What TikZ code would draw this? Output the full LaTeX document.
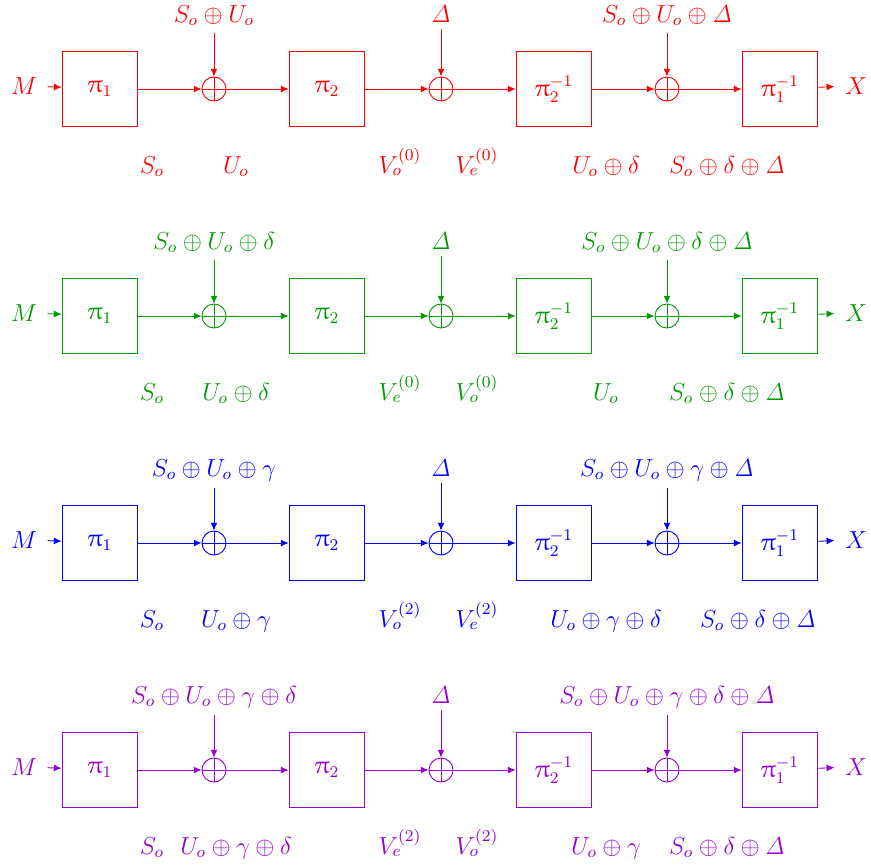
\documentclass[tikz,border=0pt]{standalone}
\usepackage{amsmath}
\usepackage{upgreek}
\usetikzlibrary{arrows.meta}
\definecolor{cgreen}{RGB}{0,153,0}
\definecolor{cviolet}{RGB}{150,0,210}
\tikzset{
  blk/.style={draw, line width=0.45pt, minimum width=37pt, minimum height=37pt, inner sep=0pt},
  xr/.style={circle, draw, line width=0.45pt, minimum size=11.7pt, inner sep=0pt,
    path picture={\draw[line width=0.45pt] (path picture bounding box.north) -- (path picture bounding box.south)
      (path picture bounding box.west) -- (path picture bounding box.east);}},
  lbl/.style={anchor=base},
  io/.style={anchor=base, inner xsep=5pt},
  arr/.style={line width=0.45pt, -{Latex[length=3.8pt,width=3.4pt]}}
}
\newcommand{\chain}[4]{%
  \node[io] (#1M) at (24,94) {$M$};
  \node[blk] (#1A) at (100,89) {$\uppi_1$};
  \node[xr] (#1C1) at (214,89) {};
  \node[blk] (#1B) at (327,89) {$\uppi_2$};
  \node[xr] (#1C2) at (441,89) {};
  \node[blk] (#1Bi) at (554,89) {$\uppi_2^{-1}$};
  \node[xr] (#1C3) at (667,89) {};
  \node[blk] (#1Ai) at (780,89) {$\uppi_1^{-1}$};
  \node[io] (#1X) at (856,94) {$X$};
  \node[lbl] (#1T1) at (214,22) {$#2$};
  \node[lbl] (#1T2) at (441,22) {$#3$};
  \node[lbl] (#1T3) at (667,22) {$#4$};
  \draw[arr] (#1M) -- (#1A);
  \draw[arr] (#1A) -- (#1C1);
  \draw[arr] (#1C1) -- (#1B);
  \draw[arr] (#1B) -- (#1C2);
  \draw[arr] (#1C2) -- (#1Bi);
  \draw[arr] (#1Bi) -- (#1C3);
  \draw[arr] (#1C3) -- (#1Ai);
  \draw[arr] (#1Ai) -- (#1X);
  \draw[arr] (#1T1) -- (#1C1);
  \draw[arr] (#1T2) -- (#1C2);
  \draw[arr] (#1T3) -- (#1C3);
}
\begin{document}
\begin{tikzpicture}[x=0.4878pt, y=-0.4878pt, every node/.append style={font=\large}]
\useasboundingbox (0,0) rectangle (871,867);
% row 1
\begin{scope}[color=red]
  \chain{a}{S_o \oplus U_o}{\mathit{\Delta}}{S_o \oplus U_o \oplus \mathit{\Delta}}
  \node[lbl] (ab1) at (152,173) {$S_o$};
  \node[lbl] (ab2) at (236,173) {$U_o$};
  \node[lbl] (ab3) at (400,173) {$V_o^{(0)}$};
  \node[lbl] (ab4) at (477,173) {$V_e^{(0)}$};
  \node[lbl] (ab5) at (606,173) {$U_o \oplus \delta$};
  \node[lbl] (ab6) at (727,173) {$S_o \oplus \delta \oplus \mathit{\Delta}$};
\end{scope}
% row 2
\begin{scope}[color=cgreen, shift={(0,227)}]
  \chain{b}{S_o \oplus U_o \oplus \delta}{\mathit{\Delta}}{S_o \oplus U_o \oplus \delta \oplus \mathit{\Delta}}
  \node[lbl] (bb1) at (152,173) {$S_o$};
  \node[lbl] (bb2) at (236,173) {$U_o \oplus \delta$};
  \node[lbl] (bb3) at (400,173) {$V_e^{(0)}$};
  \node[lbl] (bb4) at (477,173) {$V_o^{(0)}$};
  \node[lbl] (bb5) at (606,173) {$U_o$};
  \node[lbl] (bb6) at (727,173) {$S_o \oplus \delta \oplus \mathit{\Delta}$};
\end{scope}
% row 3
\begin{scope}[color=blue, shift={(0,454)}]
  \chain{c}{S_o \oplus U_o \oplus \gamma}{\mathit{\Delta}}{S_o \oplus U_o \oplus \gamma \oplus \mathit{\Delta}}
  \node[lbl] (cb1) at (152,173) {$S_o$};
  \node[lbl] (cb2) at (236,173) {$U_o \oplus \gamma$};
  \node[lbl] (cb3) at (400,173) {$V_o^{(2)}$};
  \node[lbl] (cb4) at (477,173) {$V_e^{(2)}$};
  \node[lbl] (cb5) at (606,173) {$U_o \oplus \gamma \oplus \delta$};
  \node[lbl] (cb6) at (758,173) {$S_o \oplus \delta \oplus \mathit{\Delta}$};
\end{scope}
% row 4
\begin{scope}[color=cviolet, shift={(0,681)}]
  \chain{d}{S_o \oplus U_o \oplus \gamma \oplus \delta}{\mathit{\Delta}}{S_o \oplus U_o \oplus \gamma \oplus \delta \oplus \mathit{\Delta}}
  \node[lbl] (db1) at (152,173) {$S_o$};
  \node[lbl] (db2) at (236,173) {$U_o \oplus \gamma \oplus \delta$};
  \node[lbl] (db3) at (400,173) {$V_e^{(2)}$};
  \node[lbl] (db4) at (477,173) {$V_o^{(2)}$};
  \node[lbl] (db5) at (606,173) {$U_o \oplus \gamma$};
  \node[lbl] (db6) at (727,173) {$S_o \oplus \delta \oplus \mathit{\Delta}$};
\end{scope}
\end{tikzpicture}
\end{document}
